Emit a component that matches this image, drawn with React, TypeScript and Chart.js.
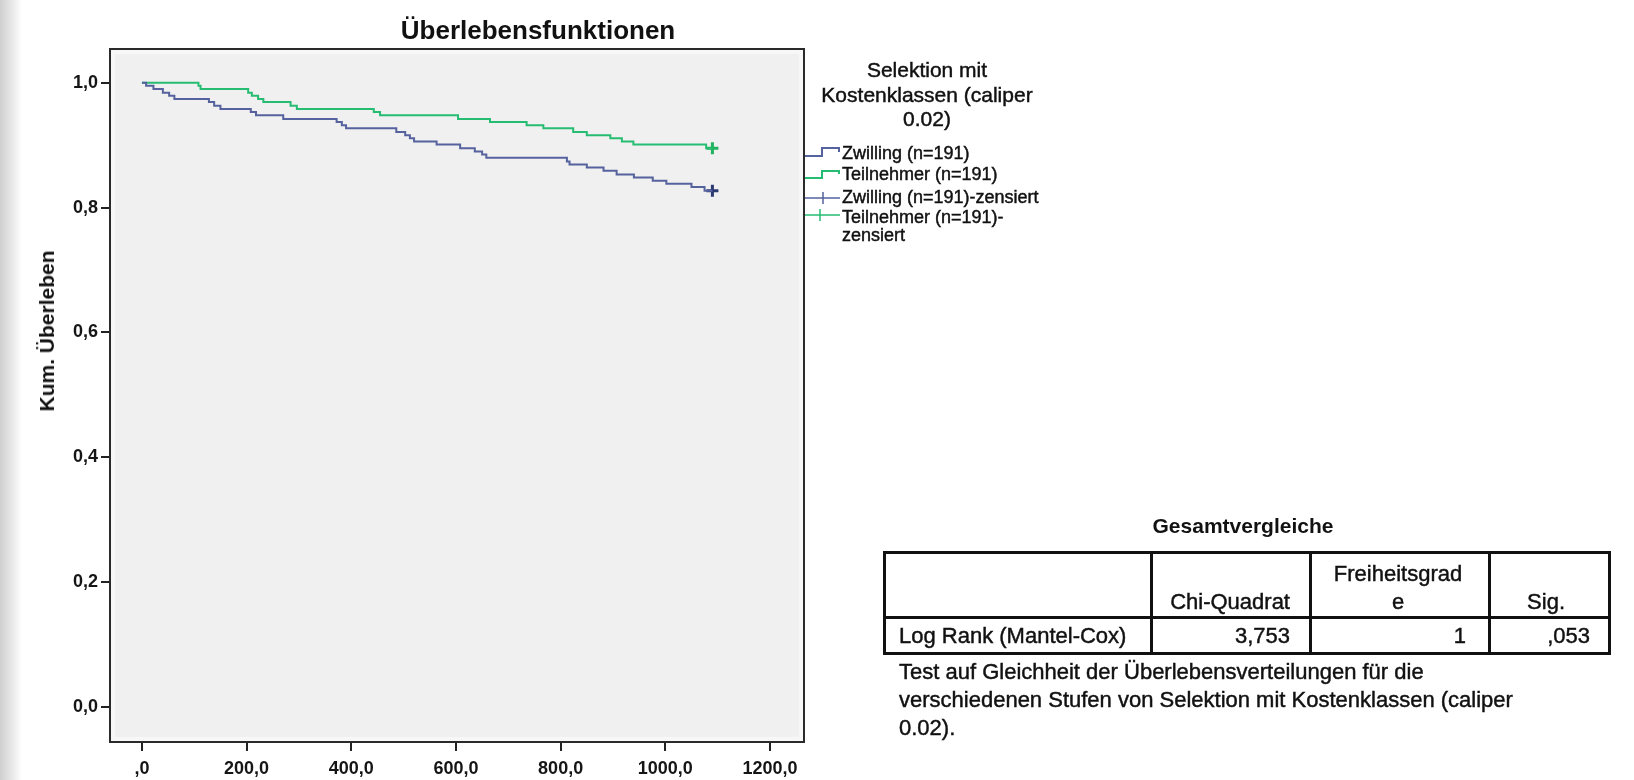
import React, { useEffect, useRef } from "react";
import { Chart, registerables } from "chart.js";

Chart.register(...registerables);

// ---------- Daten ----------
const zwillingTage = [0, 8, 22, 40, 52, 62, 128, 138, 150, 208, 218, 270, 372, 382, 390, 486, 503, 512, 520, 563, 608, 636, 650, 658, 812, 817, 850, 882, 907, 940, 976, 1002, 1050, 1075, 1090];
const zwillingUeberleben = [1.0, 0.995, 0.990, 0.984, 0.979, 0.974, 0.969, 0.963, 0.958, 0.953, 0.948, 0.942, 0.937, 0.932, 0.927, 0.921, 0.916, 0.911, 0.906, 0.901, 0.895, 0.890, 0.885, 0.880, 0.874, 0.869, 0.864, 0.859, 0.853, 0.848, 0.843, 0.838, 0.833, 0.827, 0.827];

const teilnehmerTage = [0, 108, 112, 203, 210, 222, 232, 284, 296, 443, 455, 604, 665, 735, 767, 824, 850, 895, 917, 939, 1078, 1090];
const teilnehmerUeberleben = [1.0, 0.995, 0.990, 0.984, 0.979, 0.974, 0.969, 0.963, 0.958, 0.953, 0.948, 0.942, 0.937, 0.932, 0.927, 0.921, 0.916, 0.911, 0.906, 0.901, 0.895, 0.895];

const zwillingZensiertTage = [1090];
const zwillingZensiertWerte = [0.827];
const teilnehmerZensiertTage = [1090];
const teilnehmerZensiertWerte = [0.895];

const xTickWerte = [0, 200, 400, 600, 800, 1000, 1200];
const yTickWerte = [0, 0.2, 0.4, 0.6, 0.8, 1.0];

const legendeTitel = ["Selektion mit", "Kostenklassen (caliper", "0.02)"];
const legendeEintraege = ["Zwilling (n=191)", "Teilnehmer (n=191)", "Zwilling (n=191)-zensiert", "Teilnehmer (n=191)-", "zensiert"];

const tabelleKopf = ["Chi-Quadrat", "Freiheitsgrad", "e", "Sig."];
const tabelleZeile = ["Log Rank (Mantel-Cox)", "3,753", "1", ",053"];
const fussnote = [
  "Test auf Gleichheit der Überlebensverteilungen für die",
  "verschiedenen Stufen von Selektion mit Kostenklassen (caliper",
  "0.02).",
];

// ---------- Stil ----------
const FONT = '"Liberation Sans", Arial, Helvetica, sans-serif';
const BLUE = "#55629e";
const BLUE_MARK = "#2c3a72";
const GREEN = "#26bd72";
const GREEN_MARK = "#1fb35e";

const fmtX = (v: number) => {
  if (v === 0) return ",0";
  return v.toFixed(1).replace(".", ",");
};
const fmtY = (v: number) => v.toFixed(1).replace(".", ",");

const framePlugin = {
  id: "spssFrame",
  beforeDatasetsDraw(chart: any) {
    const { ctx, chartArea } = chart;
    const { left, top, right, bottom } = chartArea;
    ctx.save();
    ctx.fillStyle = "#f7f7f7";
    ctx.fillRect(left, top, right - left, bottom - top);
    ctx.fillStyle = "#f0f0f0";
    ctx.fillRect(left + 5, top + 5, right - left - 10, bottom - top - 10);
    ctx.strokeStyle = "#2a2a2a";
    ctx.lineWidth = 2;
    ctx.strokeRect(left, top, right - left, bottom - top);
    ctx.restore();
  },
};

type Anchor = "left" | "center" | "right";
function T(props: { x: number; y: number; text: string; size: number; bold?: boolean; anchor?: Anchor }) {
  const { x, y, text, size, bold, anchor = "left" } = props;
  const lh = Math.round(size * 1.2);
  const tx = anchor === "center" ? "-50%" : anchor === "right" ? "-100%" : "0";
  return (
    <div
      style={{
        position: "absolute",
        left: x,
        top: y - lh / 2,
        lineHeight: lh + "px",
        fontSize: size,
        fontFamily: FONT,
        fontWeight: bold ? 700 : 400,
        color: "#111",
        whiteSpace: "nowrap",
        WebkitTextStroke: bold ? "0px" : "0.45px #111",
        transform: `translateX(${tx})`,
      }}
    >
      {text}
    </div>
  );
}

export default function App() {
  const canvasRef = useRef<HTMLCanvasElement>(null);

  useEffect(() => {
    const canvas = canvasRef.current;
    if (!canvas) return;
    const toPts = (xs: number[], ys: number[]) => xs.map((x, i) => ({ x, y: ys[i] }));
    const chart = new Chart(canvas, {
      type: "line",
      data: {
        datasets: [
          {
            label: legendeEintraege[0],
            data: toPts(zwillingTage, zwillingUeberleben),
            borderColor: BLUE,
            borderWidth: 2,
            stepped: true,
            pointRadius: 0,
            fill: false,
          },
          {
            label: legendeEintraege[1],
            data: toPts(teilnehmerTage, teilnehmerUeberleben),
            borderColor: GREEN,
            borderWidth: 2,
            stepped: true,
            pointRadius: 0,
            fill: false,
          },
          {
            label: legendeEintraege[2],
            data: toPts(zwillingZensiertTage, zwillingZensiertWerte),
            showLine: false,
            pointStyle: "cross",
            pointRadius: 6,
            pointBorderWidth: 3,
            pointBorderColor: BLUE_MARK,
            borderColor: BLUE_MARK,
          },
          {
            label: legendeEintraege[3] + legendeEintraege[4],
            data: toPts(teilnehmerZensiertTage, teilnehmerZensiertWerte),
            showLine: false,
            pointStyle: "cross",
            pointRadius: 6,
            pointBorderWidth: 3,
            pointBorderColor: GREEN_MARK,
            borderColor: GREEN_MARK,
          },
        ] as any,
      },
      options: {
        responsive: false,
        animation: false,
        layout: { padding: { left: 0, top: 49, right: 830, bottom: 0 } },
        plugins: {
          legend: { display: false },
          tooltip: { enabled: false },
          title: { display: false },
        },
        scales: {
          x: {
            type: "linear",
            min: -61,
            max: 1265,
            afterBuildTicks: (s: any) => {
              s.ticks = xTickWerte.map((v) => ({ value: v }));
            },
            afterFit: (s: any) => {
              s.height = 38;
            },
            ticks: {
              callback: (v: any) => fmtX(Number(v)),
              font: { family: FONT, size: 18, weight: "bold" },
              color: "#151515",
              padding: 7,
              maxRotation: 0,
              autoSkip: false,
            },
            grid: { drawOnChartArea: false, drawTicks: true, tickLength: 9, color: "#222", lineWidth: 2 },
            border: { display: false },
          },
          y: {
            type: "linear",
            min: -0.056,
            max: 1.054,
            afterBuildTicks: (s: any) => {
              s.ticks = yTickWerte.map((v) => ({ value: v }));
            },
            afterFit: (s: any) => {
              s.width = 110;
            },
            ticks: {
              callback: (v: any) => fmtY(Number(v)),
              font: { family: FONT, size: 18, weight: "bold" },
              color: "#151515",
              padding: 3,
              autoSkip: false,
            },
            grid: { drawOnChartArea: false, drawTicks: true, tickLength: 9, color: "#222", lineWidth: 2 },
            border: { display: false },
          },
        },
      } as any,
      plugins: [framePlugin],
    });
    return () => chart.destroy();
  }, []);

  return (
    <div
      style={{
        position: "absolute",
        left: 0,
        top: 0,
        width: 1634,
        height: 780,
        background: "#ffffff",
        overflow: "hidden",
      }}
    >
      <div
        style={{
          position: "absolute",
          left: 0,
          top: 0,
          width: 22,
          height: 780,
          background: "linear-gradient(to right, #cfcfcf, #e6e6e6 50%, #ffffff)",
        }}
      />
      <canvas
        ref={canvasRef}
        width={1634}
        height={780}
        style={{ position: "absolute", left: 0, top: 0, width: 1634, height: 780 }}
      />

      {/* Diagrammtitel */}
      <T x={538} y={30} text="Überlebensfunktionen" size={26} bold anchor="center" />

      {/* Y-Achsentitel */}
      <div
        style={{
          position: "absolute",
          left: 47,
          top: 331,
          transform: "translate(-50%, -50%) rotate(-90deg)",
          fontFamily: FONT,
          fontWeight: 700,
          fontSize: 21,
          color: "#111",
          whiteSpace: "nowrap",
        }}
      >
        Kum. Überleben
      </div>

      {/* Legende */}
      <T x={927} y={69} text={legendeTitel[0]} size={21} anchor="center" />
      <T x={927} y={94} text={legendeTitel[1]} size={21} anchor="center" />
      <T x={927} y={118} text={legendeTitel[2]} size={21} anchor="center" />

      <svg style={{ position: "absolute", left: 0, top: 0 }} width={1634} height={300}>
        <polyline points="805,156 822,156 822,148 839,148 839,152" fill="none" stroke={BLUE} strokeWidth={2} />
        <polyline points="805,178 822,178 822,171 839,171 839,174" fill="none" stroke={GREEN} strokeWidth={2} />
        <line x1={805} y1={198} x2={840} y2={198} stroke={BLUE} strokeWidth={1.5} />
        <line x1={823} y1={192} x2={823} y2={204} stroke={BLUE} strokeWidth={1.5} />
        <line x1={805} y1={215} x2={840} y2={215} stroke={GREEN} strokeWidth={1.5} />
        <line x1={820} y1={209} x2={820} y2={221} stroke={GREEN} strokeWidth={1.5} />
      </svg>
      <T x={842} y={153} text={legendeEintraege[0]} size={18} />
      <T x={842} y={174} text={legendeEintraege[1]} size={18} />
      <T x={842} y={197} text={legendeEintraege[2]} size={18} />
      <T x={842} y={217} text={legendeEintraege[3]} size={18} />
      <T x={842} y={235} text={legendeEintraege[4]} size={18} />

      {/* Tabelle */}
      <T x={1243} y={525} text="Gesamtvergleiche" size={21} bold anchor="center" />
      <div
        style={{
          position: "absolute",
          left: 883,
          top: 551,
          width: 728,
          height: 104,
          border: "3px solid #111",
          boxSizing: "border-box",
        }}
      />
      <div style={{ position: "absolute", left: 883, top: 616, width: 728, height: 3, background: "#111" }} />
      <div style={{ position: "absolute", left: 1150, top: 551, width: 3, height: 104, background: "#111" }} />
      <div style={{ position: "absolute", left: 1309, top: 551, width: 3, height: 104, background: "#111" }} />
      <div style={{ position: "absolute", left: 1488, top: 551, width: 3, height: 104, background: "#111" }} />

      <T x={1290} y={602} text={tabelleKopf[0]} size={22} anchor="right" />
      <T x={1398} y={574} text={tabelleKopf[1]} size={22} anchor="center" />
      <T x={1398} y={602} text={tabelleKopf[2]} size={22} anchor="center" />
      <T x={1565} y={602} text={tabelleKopf[3]} size={22} anchor="right" />

      <T x={899} y={636} text={tabelleZeile[0]} size={22} />
      <T x={1290} y={636} text={tabelleZeile[1]} size={22} anchor="right" />
      <T x={1466} y={636} text={tabelleZeile[2]} size={22} anchor="right" />
      <T x={1590} y={636} text={tabelleZeile[3]} size={22} anchor="right" />

      <T x={899} y={672} text={fussnote[0]} size={22} />
      <T x={899} y={700} text={fussnote[1]} size={22} />
      <T x={899} y={728} text={fussnote[2]} size={22} />
    </div>
  );
}
